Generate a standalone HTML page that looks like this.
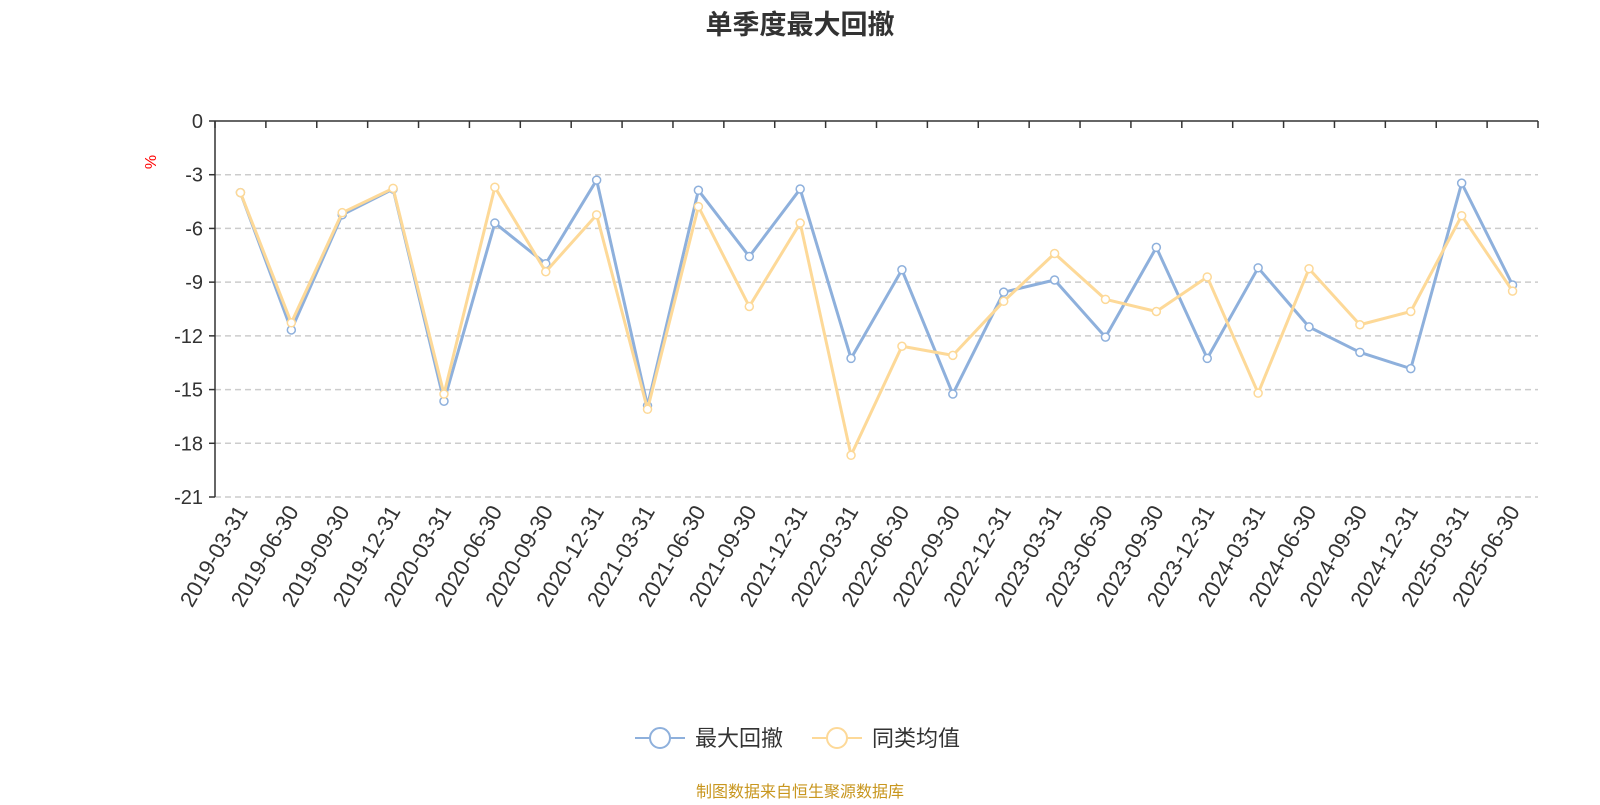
<!DOCTYPE html>
<html><head><meta charset="utf-8">
<style>
html,body{margin:0;padding:0;background:#fff;}
body{width:1600px;height:800px;overflow:hidden;font-family:"Liberation Sans","Noto Sans CJK SC",sans-serif;}
</style></head>
<body>
<svg id="chart" width="1600" height="800" xmlns="http://www.w3.org/2000/svg" font-family="Liberation Sans, Noto Sans CJK SC, sans-serif">
<text x="800" y="34" text-anchor="middle" font-size="27" font-weight="bold" fill="#333">单季度最大回撤</text>
<text x="156" y="162" font-size="16" fill="red" transform="rotate(-90 156 162)" text-anchor="middle">%</text>
<g id="grid"></g>
<g id="axes"></g>
<g id="series"></g>
<g>
<g>
<line x1="635" y1="738" x2="685" y2="738" stroke="#8eb0dc" stroke-width="2"/>
<circle cx="660" cy="738" r="10" fill="#fff" stroke="#8eb0dc" stroke-width="2"/>
<text x="695" y="746" font-size="22" fill="#333">最大回撤</text>
</g>
<g>
<line x1="812" y1="738" x2="862" y2="738" stroke="#fdd998" stroke-width="2"/>
<circle cx="837" cy="738" r="10" fill="#fff" stroke="#fdd998" stroke-width="2"/>
<text x="872" y="746" font-size="22" fill="#333">同类均值</text>
</g>
</g>
<text x="800" y="797" text-anchor="middle" font-size="16" fill="#c8961e">制图数据来自恒生聚源数据库</text>
</svg>
<script>
const categories=["2019-03-31","2019-06-30","2019-09-30","2019-12-31","2020-03-31","2020-06-30","2020-09-30","2020-12-31","2021-03-31","2021-06-30","2021-09-30","2021-12-31","2022-03-31","2022-06-30","2022-09-30","2022-12-31","2023-03-31","2023-06-30","2023-09-30","2023-12-31","2024-03-31","2024-06-30","2024-09-30","2024-12-31","2025-03-31","2025-06-30"];
const maxDrawdown=[-4.0,-11.67,-5.24,-3.8,-15.65,-5.7,-7.97,-3.3,-15.9,-3.87,-7.57,-3.8,-13.26,-8.31,-15.25,-9.56,-8.88,-12.07,-7.06,-13.26,-8.2,-11.5,-12.92,-13.83,-3.47,-9.16];
const peerAverage=[-4.0,-11.27,-5.12,-3.76,-15.25,-3.7,-8.42,-5.24,-16.1,-4.78,-10.36,-5.7,-18.67,-12.58,-13.09,-10.07,-7.4,-9.96,-10.64,-8.71,-15.2,-8.25,-11.38,-10.64,-5.29,-9.5];
const yTicks=[0,-3,-6,-9,-12,-15,-18,-21];

const NS="http://www.w3.org/2000/svg";
const L=215,R=1538,T=121,B=497,yMin=-21,yMax=0;
const band=(R-L)/categories.length;
const x=i=>L+band*(i+0.5);
const y=v=>T+(yMax-v)/(yMax-yMin)*(B-T);
function mk(tag,attrs,parent){const e=document.createElementNS(NS,tag);for(const k in attrs)e.setAttribute(k,attrs[k]);parent.appendChild(e);return e;}
const grid=document.getElementById('grid'),axes=document.getElementById('axes'),series=document.getElementById('series');
yTicks.forEach(t=>{
  if(t!==0){const g=mk('line',{x1:L,x2:R,y1:y(t),y2:y(t),stroke:'#ccc','stroke-dasharray':'6,4','stroke-width':1.5},grid);
  
  }
  const tk=mk('line',{x1:L-6,x2:L,y1:y(t),y2:y(t),stroke:'#333','stroke-width':1.5},axes);
  
  
  const lb=mk('text',{x:L-12,y:y(t)+7,'text-anchor':'end','font-size':20,fill:'#333'},axes);
  
  
  lb.textContent=t;
});
mk('line',{x1:L,x2:L,y1:T,y2:B,stroke:'#333','stroke-width':1.5},axes);
mk('line',{x1:L,x2:R,y1:T,y2:T,stroke:'#333','stroke-width':1.5},axes);
for(let i=0;i<=categories.length;i++){
  const tk=mk('line',{x1:L+band*i,x2:L+band*i,y1:T,y2:T+7,stroke:'#333','stroke-width':1.5},axes);
  
  
}
categories.forEach((c,i)=>{
  const px=x(i)+8,py=B+14;
  const lb=mk('text',{x:px,y:py,'text-anchor':'end','font-size':22,fill:'#333',transform:`rotate(-60 ${px} ${py})`},axes);
  
  
  lb.textContent=c;
});
function drawSeries(vals,color,name){
  const g=mk('g',{},series);
  
  
  const p=mk('polyline',{points:vals.map((v,i)=>x(i)+','+y(v)).join(' '),fill:'none',stroke:color,'stroke-width':3,'stroke-linejoin':'round'},g);
  
  
  vals.forEach((v,i)=>{
    const c=mk('circle',{cx:x(i),cy:y(v),r:4,fill:'#fff',stroke:color,'stroke-width':1.5},g);
    
    
  });
}
drawSeries(maxDrawdown,'#8eb0dc','max-drawdown');
drawSeries(peerAverage,'#fdd998','peer-average');
</script>
</body></html>
